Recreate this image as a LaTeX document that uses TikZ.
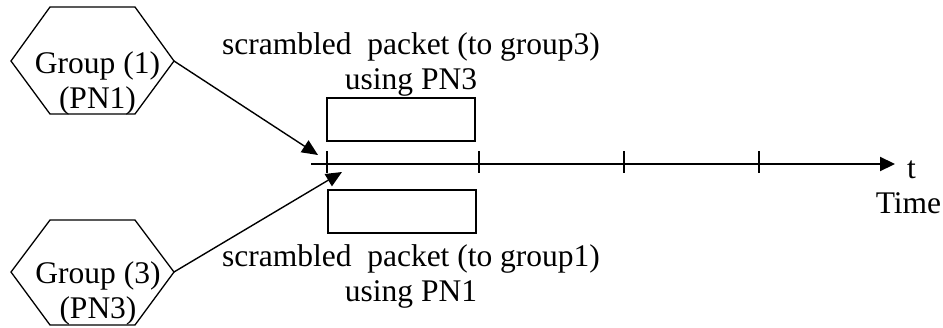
\documentclass[tikz,border=0pt]{standalone}
\usepackage{fontspec}
\setmainfont{Liberation Serif}
\usepackage{tikz}
\usepackage{xcolor}
\usetikzlibrary{arrows.meta}
\tikzstyle{packet} = [rectangle, minimum width=148pt, minimum height=43pt, draw=black, line width=2.6pt]
\tikzstyle{txt} = [align=center, inner sep=0pt]
\tikzstyle{hexa} = [draw=black, line width=1.3pt]
\tikzstyle{arrow} = [line width=1.4pt, -{Triangle[length=16pt,width=14pt]}]
\tikzstyle{axis} = [line width=2.2pt, -{Triangle[length=15pt,width=14pt]}]
\tikzstyle{tick} = [line width=1.6pt]

\begin{document}
\begin{tikzpicture}[x=1pt, y=-1pt, font=\fontsize{31.5}{35}\selectfont]
    \useasboundingbox (0,0) rectangle (943,327);
    % groups
    \coordinate (g1_w) at (11,61);
    \coordinate (g1_e) at (174,61);
    \coordinate (g3_w) at (11,272);
    \coordinate (g3_e) at (174,272);
    \draw [hexa] (g1_w) -- (50,7) -- (135,7) -- (g1_e) -- (135,114) -- (50,114) -- cycle;
    \draw [hexa] (g3_w) -- (50,220) -- (135,220) -- (g3_e) -- (135,325) -- (50,325) -- cycle;
    \node (g1_txt) [txt] at (97.5,83) {Group (1)\\(PN1)};
    \node (g3_txt) [txt] at (98,293) {Group (3)\\(PN3)};

    % packets
    \node (pkt3) [packet] at (401,119.5) {};
    \node (pkt1) [packet] at (402,211.5) {};
    \node (pkt3_txt) [txt] at (411,64) {scrambled\ \ packet (to group3)\\using PN3};
    \node (pkt1_txt) [txt] at (411,276) {scrambled\ \ packet (to group1)\\using PN1};

    % time axis
    \coordinate (t_start) at (311,164);
    \coordinate (t_end) at (895,164);
    \draw [axis] (t_start) -- (t_end);
    \foreach \x in {327,479,624,759}
        \draw [tick] (\x,151) -- (\x,173);
    \node (t_lbl) [inner sep=0pt, anchor=base west] at (907,178) {t};
    \node (time_lbl) [inner sep=0pt, anchor=base] at (908.5,213) {Time};

    % arrows
    \coordinate (hit1) at (318,155);
    \coordinate (hit3) at (342,172);
    \draw [arrow] (g1_e) -- (hit1);
    \draw [arrow] (g3_e) -- (hit3);
\end{tikzpicture}
\end{document}
